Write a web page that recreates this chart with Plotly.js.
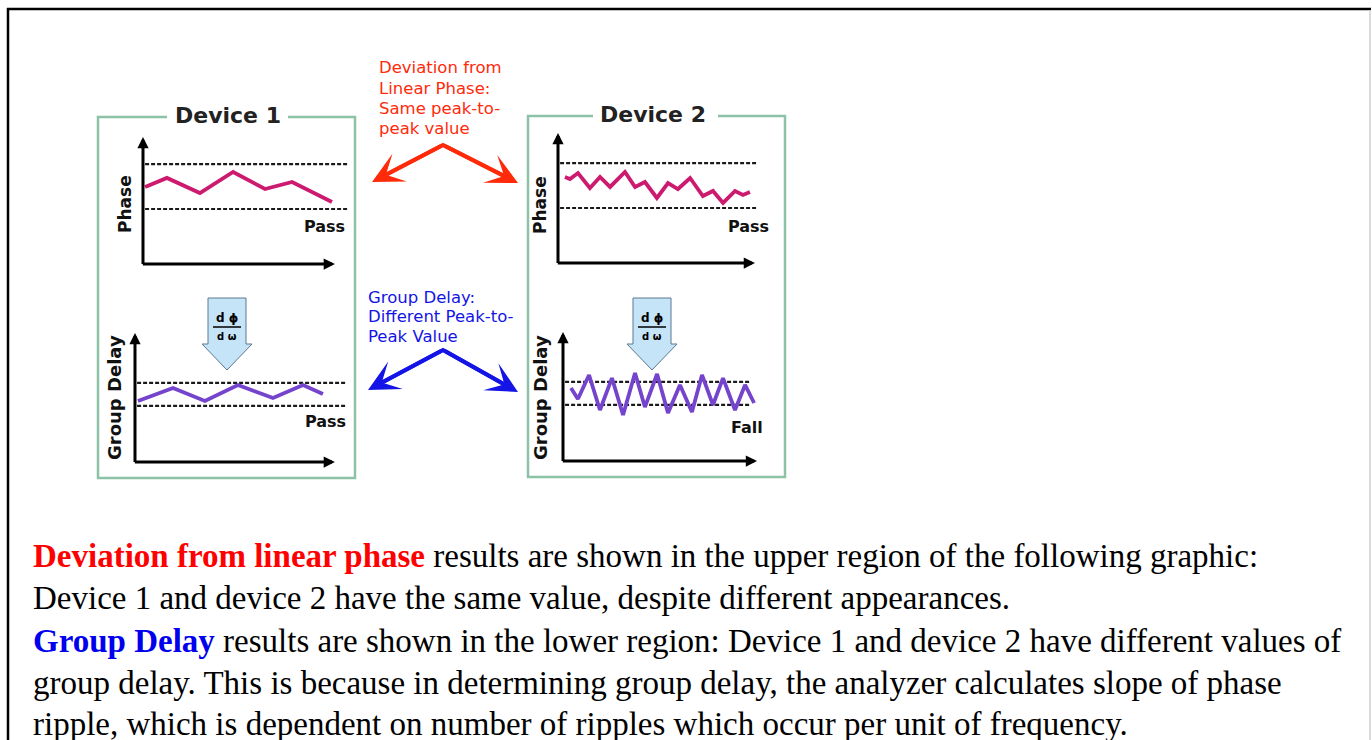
<!DOCTYPE html>
<html>
<head>
<meta charset="utf-8">
<script src="https://cdn.plot.ly/plotly-3.0.1.min.js"></script>
<style>
html,body{margin:0;padding:0;background:#fff;overflow:hidden;}
#chart{width:1372px;height:740px;}
</style>
</head>
<body>
<div id="chart"></div>
<script>
// ---------------- DATA ----------------
// Device 1, phase ripple (frequency units, phase units)
const dev1PhaseFreq = [0.1, 1.14, 2.71, 4.29, 5.81, 7.10, 9.0];
const dev1PhaseVal  = [5.92, 6.62, 5.46, 7.08, 5.77, 6.31, 4.77];
// Device 1, group delay
const dev1GDFreq = [0.14, 1.81, 3.33, 4.90, 6.57, 8.0, 8.95];
const dev1GDVal  = [4.69, 5.69, 4.69, 5.92, 4.92, 5.92, 5.23];
// Device 2, phase ripple
const dev2PhaseFreq = [0.33, 0.57, 0.95, 1.52, 2.0, 2.48, 3.19, 3.67, 4.14, 4.71, 5.24, 5.71, 6.29, 6.90, 7.38, 7.86, 8.43, 8.81, 9.14];
const dev2PhaseVal  = [6.62, 6.46, 6.92, 5.77, 6.62, 5.85, 7.0, 5.85, 6.23, 5.0, 6.15, 5.69, 6.54, 5.15, 5.54, 4.62, 5.54, 5.23, 5.46];
// Device 2, group delay
const dev2GDFreq = [0.38, 0.71, 1.24, 1.76, 2.33, 2.86, 3.43, 3.90, 4.48, 5.0, 5.57, 6.14, 6.62, 7.14, 7.62, 8.19, 8.67, 9.10];
const dev2GDVal  = [5.62, 4.77, 6.62, 3.92, 6.38, 3.54, 6.77, 4.15, 6.69, 3.69, 5.85, 3.77, 6.62, 4.31, 6.38, 3.92, 5.85, 4.46];
// Pass/fail limits (lower, upper)
const phaseLimits = [4.23, 7.69];
const gdLimits = [4.31, 6.08];
// Limit-line frequency spans per panel
const limitSpanA = [0.1, 9.76];
const limitSpanB = [0.1, 10.05];
const limitSpanC = [0.1, 9.52];
const limitSpanD = [0.1, 8.9];
// Verdicts
const verdicts = ["Pass", "Pass", "Pass", "Fall"];

// ---------------- LAYOUT HELPERS ----------------
const W = 1372, H = 740;
const PXU = 21, PYU = 13, XR = 10.5, YR = 10;
const px = x => x / W;
const py = y => 1 - y / H;
const panels = [
  {o:[143,264], tipX:9.14, tipY:9.77},  // A: dev1 phase
  {o:[135,462], tipX:9.52, tipY:9.92},  // B: dev1 GD
  {o:[558,263], tipX:9.38, tipY:10.0},  // C: dev2 phase
  {o:[563,461], tipX:9.24, tipY:9.92}   // D: dev2 GD
];

const PHASE_COL = '#cc1a6e';
const GD_COL = '#7444cc';

const series = [
  [dev1PhaseFreq, dev1PhaseVal, PHASE_COL, phaseLimits, limitSpanA],
  [dev1GDFreq, dev1GDVal, GD_COL, gdLimits, limitSpanB],
  [dev2PhaseFreq, dev2PhaseVal, PHASE_COL, phaseLimits, limitSpanC],
  [dev2GDFreq, dev2GDVal, GD_COL, gdLimits, limitSpanD]
];

const traces = [];
const layout = {
  width: W, height: H,
  margin: {l:0, r:0, t:0, b:0},
  paper_bgcolor: '#ffffff', plot_bgcolor: 'rgba(0,0,0,0)',
  showlegend: false,
  shapes: [], annotations: []
};

function note(x, y, text, font, extra) {
  layout.annotations.push(Object.assign({
    xref:'paper', yref:'paper', x:px(x), y:py(y), text:text, showarrow:false,
    xanchor:'center', yanchor:'middle', font:font
  }, extra || {}));
}

series.forEach((s, i) => {
  const n = i === 0 ? '' : String(i + 1);
  const xa = 'x' + n, ya = 'y' + n;
  const p = panels[i];
  layout['xaxis' + n] = {
    domain: [px(p.o[0]), px(p.o[0] + XR * PXU)],
    range: [0, XR], visible: false, fixedrange: true, anchor: ya
  };
  layout['yaxis' + n] = {
    domain: [py(p.o[1]), py(p.o[1] - YR * PYU)],
    range: [0, YR], visible: false, fixedrange: true, anchor: xa
  };
  s[3].forEach(lim => {
    traces.push({
      type: 'scatter', mode: 'lines', xaxis: xa, yaxis: ya,
      x: s[4], y: [lim, lim],
      line: {color: '#1a1a1a', width: 2.2, dash: '4px,2px'}, hoverinfo: 'skip'
    });
  });
  traces.push({
    type: 'scatter', mode: 'lines', xaxis: xa, yaxis: ya,
    x: s[0], y: s[1],
    line: {color: s[2], width: 3.8}, hoverinfo: 'skip'
  });
  layout.annotations.push({
    xref: xa, yref: ya, axref: xa, ayref: ya,
    x: p.tipX, y: 0, ax: -0.08, ay: 0, text: '', showarrow: true,
    arrowhead: 2, arrowwidth: 3, arrowsize: 0.75, arrowcolor: '#000', standoff: 0
  });
  layout.annotations.push({
    xref: xa, yref: ya, axref: xa, ayref: ya,
    x: 0, y: p.tipY, ax: 0, ay: -0.12, text: '', showarrow: true,
    arrowhead: 2, arrowwidth: 3, arrowsize: 0.75, arrowcolor: '#000', standoff: 0
  });
  layout.annotations.push({
    xref: xa, yref: ya, x: p.tipX + 0.3, y: -0.25, text: '<i>f</i>', showarrow: false,
    xanchor: 'center', yanchor: 'middle',
    font: {family: 'DejaVu Sans', size: 7, color: '#333'}
  });
});

// ---------------- DECORATION ----------------
const green = '#8cc3a6';
function boxPath(l, r, t, b, g1, g2) {
  return `M${px(g1)},${py(t)} L${px(l)},${py(t)} L${px(l)},${py(b)} L${px(r)},${py(b)} L${px(r)},${py(t)} L${px(g2)},${py(t)}`;
}
layout.shapes.push({type:'path', xref:'paper', yref:'paper', path: boxPath(98,355,117,478,167,288), line:{color:green, width:2.5}});
layout.shapes.push({type:'path', xref:'paper', yref:'paper', path: boxPath(528,785,116,477,593,718), line:{color:green, width:2.5}});

// outer frame
layout.shapes.push({type:'line', xref:'paper', yref:'paper', x0:px(7), x1:px(1371), y0:py(9), y1:py(9), line:{color:'#000', width:2.5}});
layout.shapes.push({type:'line', xref:'paper', yref:'paper', x0:px(8), x1:px(8), y0:py(8), y1:py(741), line:{color:'#000', width:2.5}});
layout.shapes.push({type:'line', xref:'paper', yref:'paper', x0:px(1370), x1:px(1370), y0:py(10), y1:py(741), line:{color:'#cfcfcf', width:1.5}});

// block "derivative" arrows
function blockArrow(cx) {
  const pts = [[cx-19,298],[cx+19,298],[cx+19,344],[cx+25,344],[cx,370],[cx-25,344],[cx-19,344]];
  return 'M' + pts.map(p => px(p[0]) + ',' + py(p[1])).join(' L') + ' Z';
}
[227, 652].forEach(cx => {
  layout.shapes.push({type:'path', xref:'paper', yref:'paper', path: blockArrow(cx), fillcolor:'#c6e4f8', line:{color:'#5a7890', width:1}});
  layout.shapes.push({type:'line', xref:'paper', yref:'paper', x0:px(cx-14), x1:px(cx+14), y0:py(327), y1:py(327), line:{color:'#000', width:1.5}});
  note(cx, 318, '<b>d ϕ</b>', {family:'DejaVu Sans', size:12, color:'#000'});
  note(cx, 336, '<b>d ω</b>', {family:'DejaVu Sans', size:10, color:'#000'});
});

// titles
const titleFont = {family:'DejaVu Sans', size:22, color:'#222'};
note(228, 116, '<b>Device 1</b>', titleFont);
note(653, 115, '<b>Device 2</b>', titleFont);

// rotated axis labels
const lblFont = {family:'DejaVu Sans', size:17, color:'#111'};
note(125, 204, '<b>Phase</b>', lblFont, {textangle:-90});
note(540, 205, '<b>Phase</b>', lblFont, {textangle:-90});
const gdFont = {family:'DejaVu Sans', size:18, color:'#111'};
note(115, 398, '<b>Group Delay</b>', gdFont, {textangle:-90});
note(541, 398, '<b>Group Delay</b>', gdFont, {textangle:-90});

// verdict labels
const vFont = {family:'DejaVu Sans', size:16, color:'#111'};
[[324,226],[325,421],[748,226],[747,427]].forEach((a, i) => note(a[0], a[1], '<b>'+verdicts[i]+'</b>', vFont));

// middle notes
const red = '#ff2a0a', blue = '#1414e6';
['Deviation from','Linear Phase:','Same peak-to-','peak value'].forEach((t, i) =>
  note(377, 68 + i*20.3, t, {family:'DejaVu Sans', size:16.5, color:red}, {xanchor:'left'}));
['Group Delay:','Different Peak-to-','Peak Value'].forEach((t, i) =>
  note(366, 297 + i*19.5, t, {family:'DejaVu Sans', size:16.5, color:blue}, {xanchor:'left'}));

// V-shaped pointer arrows: a continuous polyline plus arrowheads
function vPointer(tipL, apex, tipR, col) {
  const back = (tip) => {
    const dx = apex[0] - tip[0], dy = apex[1] - tip[1];
    const L = Math.hypot(dx, dy);
    return [tip[0] + 12 * dx / L, tip[1] + 12 * dy / L];
  };
  const a = back(tipL), b = back(tipR);
  layout.shapes.push({type:'path', xref:'paper', yref:'paper',
    path:`M${px(a[0])},${py(a[1])} L${px(apex[0])},${py(apex[1])} L${px(b[0])},${py(b[1])}`,
    line:{color:col, width:4}});
  [tipL, tipR].forEach(tip => layout.annotations.push({xref:'paper', yref:'paper', x:px(tip[0]), y:py(tip[1]),
    ax: apex[0]-tip[0], ay: apex[1]-tip[1],
    text:'', showarrow:true, arrowhead:3, arrowwidth:4, arrowsize:1.3, arrowcolor:col, standoff:0}));
}
vPointer([372,182],[443,145],[518,183],red);
vPointer([368,390],[443,350],[518,392],blue);

// bottom explanatory text
const serif = 'Liberation Serif, Times New Roman, serif';
const bottomLines = [
  '<b><span style="color:#ff0000">Deviation from linear phase</span></b> results are shown in the upper region of the following graphic:',
  'Device 1 and device 2 have the same value, despite different appearances.',
  '<b><span style="color:#0000ee">Group Delay</span></b> results are shown in the lower region: Device 1 and device 2 have different values of',
  'group delay. This is because in determining group delay, the analyzer calculates slope of phase',
  'ripple, which is dependent on number of ripples which occur per unit of frequency.'
];
const bottomY = [556, 598, 641, 683, 724];
bottomLines.forEach((t, i) => note(31, bottomY[i], t, {family:serif, size:33, color:'#000'}, {xanchor:'left'}));

Plotly.newPlot('chart', traces, layout, {staticPlot:true, displayModeBar:false});
</script>
</body>
</html>
